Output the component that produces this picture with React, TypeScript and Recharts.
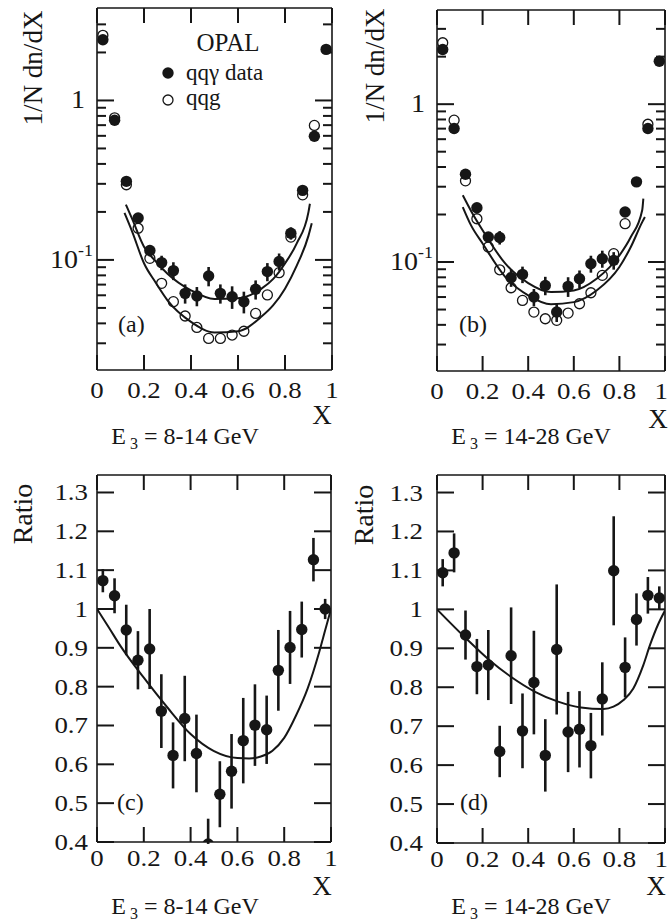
import React from 'react';
import { ComposedChart, Scatter, Line, XAxis, YAxis, ErrorBar } from 'recharts';

const FONT = '"Liberation Serif","Times New Roman",Times,serif';
const INK = '#161616';

// ---------- shared ----------
const xBins = [0.025, 0.075, 0.125, 0.175, 0.225, 0.275, 0.325, 0.375, 0.425, 0.475, 0.525, 0.575, 0.625, 0.675, 0.725, 0.775, 0.825, 0.875, 0.925, 0.975];
const xTicks = [0, 0.2, 0.4, 0.6, 0.8, 1];
const logTicks = [0.03, 0.04, 0.05, 0.06, 0.07, 0.08, 0.09, 0.1, 0.2, 0.3, 0.4, 0.5, 0.6, 0.7, 0.8, 0.9, 1, 2, 3];
const logMajor = [0.1, 1];
const ratioTicks = [0.4, 0.5, 0.6, 0.7, 0.8, 0.9, 1, 1.1, 1.2, 1.3];

// ---------- panel (a): E3 = 8-14 GeV ----------
const aPhoton = [2.40, 0.752, 0.311, 0.183, 0.1146, 0.0962, 0.0857, 0.0617, 0.0594, 0.0793, 0.0617, 0.0588, 0.0547, 0.0654, 0.0845, 0.0977, 0.147, 0.273, 0.597, 2.09];
const aPhotonErr = [0, 0, 0, 0, 0.0095, 0.010, 0.011, 0.0085, 0.0082, 0.011, 0.0085, 0.0095, 0.0085, 0.009, 0.011, 0.012, 0.013, 0, 0, 0];
const aGluon = [2.56, 0.778, 0.296, 0.158, 0.1023, 0.0713, 0.0547, 0.0445, 0.0377, 0.0322, 0.0322, 0.0338, 0.0357, 0.0462, 0.0603, 0.0832, 0.139, 0.256, 0.697, null];
const aFitPhotonX = [0.123, 0.15, 0.2, 0.25, 0.3, 0.4, 0.5, 0.6, 0.7, 0.75, 0.8, 0.85, 0.9, 0.906];
const aFitPhotonY = [0.222, 0.18, 0.121, 0.098, 0.082, 0.0645, 0.0569, 0.0574, 0.066, 0.076, 0.095, 0.127, 0.2, 0.225];
const aFitGluonX = [0.117, 0.15, 0.2, 0.25, 0.3, 0.4, 0.5, 0.6, 0.7, 0.75, 0.8, 0.85, 0.9, 0.914];
const aFitGluonY = [0.197, 0.15, 0.0953, 0.072, 0.0558, 0.0409, 0.0351, 0.0357, 0.0441, 0.052, 0.066, 0.092, 0.142, 0.17];

// ---------- panel (b): E3 = 14-28 GeV ----------
const bPhoton = [2.22, 0.701, 0.360, 0.221, 0.144, 0.143, 0.0796, 0.0835, 0.060, 0.0711, 0.0482, 0.0701, 0.0784, 0.0976, 0.105, 0.1025, 0.2075, 0.322, 0.701, 1.87];
const bPhotonErr = [0, 0, 0, 0, 0, 0.014, 0.010, 0.010, 0.0075, 0.0095, 0.0065, 0.010, 0.010, 0.012, 0.013, 0.013, 0, 0, 0, 0];
const bGluon = [2.45, 0.792, 0.327, 0.188, 0.1245, 0.0893, 0.0687, 0.0571, 0.0482, 0.0437, 0.0427, 0.0475, 0.0544, 0.0639, 0.0823, 0.113, 0.175, null, 0.746, null];
const bFitPhotonX = [0.113, 0.15, 0.2, 0.3, 0.4, 0.5, 0.6, 0.7, 0.8, 0.85, 0.9, 0.905];
const bFitPhotonY = [0.265, 0.21, 0.159, 0.0976, 0.0736, 0.0645, 0.0661, 0.0784, 0.110, 0.144, 0.213, 0.252];
const bFitGluonX = [0.113, 0.15, 0.2, 0.3, 0.4, 0.5, 0.6, 0.7, 0.8, 0.85, 0.9, 0.912];
const bFitGluonY = [0.223, 0.17, 0.131, 0.0803, 0.0615, 0.054, 0.0557, 0.066, 0.093, 0.1245, 0.179, 0.193];

// ---------- panel (c): ratio, E3 = 8-14 GeV ----------
// errors: number = symmetric, [low, high] = asymmetric (bin 10 runs off the bottom of the frame)
const cRatio = [1.073, 1.034, 0.946, 0.868, 0.897, 0.737, 0.623, 0.718, 0.628, 0.395, 0.523, 0.582, 0.661, 0.701, 0.689, 0.842, 0.901, 0.947, 1.127, 1.0];
const cRatioErr: (number | [number, number])[] = [0.03, 0.045, 0.065, 0.075, 0.103, 0.095, 0.085, 0.11, 0.10, [0, 0.065], 0.085, 0.096, 0.11, 0.105, 0.088, 0.104, 0.094, 0.072, 0.056, 0.026];
const cFitX = [0, 0.05, 0.1, 0.2, 0.3, 0.4, 0.5, 0.6, 0.65, 0.7, 0.75, 0.8, 0.85, 0.9, 0.95, 0.975, 1.0];
const cFitY = [1.0, 0.953, 0.905, 0.823, 0.747, 0.678, 0.634, 0.616, 0.615, 0.62, 0.635, 0.668, 0.725, 0.795, 0.89, 0.945, 1.0];

// ---------- panel (d): ratio, E3 = 14-28 GeV ----------
const dRatio = [1.094, 1.145, 0.934, 0.853, 0.857, 0.635, 0.881, 0.688, 0.812, 0.625, 0.897, 0.685, 0.692, 0.650, 0.770, 1.099, 0.851, 0.974, 1.036, 1.029];
const dRatioErr = [0.035, 0.05, 0.063, 0.071, 0.09, 0.066, 0.124, 0.096, 0.133, 0.093, 0.167, 0.103, 0.098, 0.084, 0.094, 0.14, 0.077, 0.067, 0.047, 0.03];
const dFitX = [0, 0.128, 0.229, 0.324, 0.428, 0.531, 0.631, 0.73, 0.774, 0.818, 0.861, 0.905, 0.934, 0.971, 1.0];
const dFitY = [1.0, 0.925, 0.870, 0.827, 0.789, 0.763, 0.748, 0.744, 0.75, 0.767, 0.797, 0.857, 0.908, 0.963, 0.997];

// ---------- helpers ----------
type Err = number | [number, number];
type Pt = { x: number; y: number; e?: Err };
const toPts = (xs: number[], ys: (number | null)[], es?: Err[]): Pt[] =>
  xs
    .map((x, i) => ({ x, y: ys[i] as number, e: es ? es[i] : undefined }))
    .filter((p) => p.y !== null && p.y !== undefined);

const FilledDot = (p: any) =>
  p.cx == null ? <g /> : <circle cx={p.cx} cy={p.cy} r={5.7} fill={INK} />;
const OpenDot = (p: any) =>
  p.cx == null ? <g /> : <circle cx={p.cx} cy={p.cy} r={5} fill="none" stroke={INK} strokeWidth={1.3} />;

const txt = { fontFamily: FONT, fill: INK } as const;
const SX = 1.12; // tick numerals are slightly wider than the plain font

const fmt = (v: number) => String(v);

const TickText = ({ x, y, anchor, size, children }: any) => (
  <text transform={`translate(${x},${y}) scale(${SX},1)`} textAnchor={anchor} fontSize={size} {...txt}>
    {children}
  </text>
);

// clampRight: keep the last label inside the page edge
const BottomTick = (p: any, dy: number, clampRight: boolean) => {
  const last = clampRight && p.payload.value === 1;
  return (
    <g>
      <line x1={p.x} y1={p.y} x2={p.x} y2={p.y - 15} stroke={INK} strokeWidth={2} />
      <TickText x={last ? p.x + 3 : p.x} y={p.y + dy} anchor={last ? 'end' : 'middle'} size={24}>
        {fmt(p.payload.value)}
      </TickText>
    </g>
  );
};
const TopTick = (p: any) => (
  <line x1={p.x} y1={p.y} x2={p.x} y2={p.y + 15} stroke={INK} strokeWidth={2} />
);
const LogLeftTick = (p: any) => {
  const v = p.payload.value;
  const major = logMajor.includes(v);
  return (
    <g>
      <line x1={p.x} y1={p.y} x2={p.x + (major ? 17 : 9)} y2={p.y} stroke={INK} strokeWidth={2} />
      {v === 1 && (
        <TickText x={p.x - 12} y={p.y + 8} anchor="end" size={25}>1</TickText>
      )}
      {v === 0.1 && (
        <TickText x={p.x - 4} y={p.y + 8} anchor="end" size={25}>
          10<tspan dy={-12} fontSize={16}>-1</tspan>
        </TickText>
      )}
    </g>
  );
};
const LogRightTick = (p: any) => {
  const major = logMajor.includes(p.payload.value);
  return <line x1={p.x} y1={p.y} x2={p.x - (major ? 17 : 9)} y2={p.y} stroke={INK} strokeWidth={2} />;
};
const RatioLeftTick = (p: any, gap: number) => (
  <g>
    <line x1={p.x} y1={p.y} x2={p.x + 17} y2={p.y} stroke={INK} strokeWidth={2} />
    <TickText x={p.x - gap} y={p.y + 8} anchor="end" size={24}>
      {fmt(p.payload.value)}
    </TickText>
  </g>
);
const RatioRightTick = (p: any) => (
  <line x1={p.x} y1={p.y} x2={p.x - 17} y2={p.y} stroke={INK} strokeWidth={2} />
);

const axisLine = { stroke: INK, strokeWidth: 1.6 };

type PanelProps = {
  left: number;
  top: number;
  w: number;
  h: number;
  margin: { top: number; right: number; bottom: number; left: number };
  log: boolean;
  yDomain: [number, number];
  labelDy: number;
  labelGap?: number;
  clampRight?: boolean;
  lines: Pt[][];
  filled: Pt[];
  open?: Pt[];
};

// axes are 1px thick boxes; the margins below are the plot box minus that 1px
function Panel({ left, top, w, h, margin, log, yDomain, labelDy, labelGap = 9, clampRight = false, lines, filled, open }: PanelProps) {
  const m = { top: margin.top - 1, right: margin.right - 1, bottom: margin.bottom - 1, left: margin.left - 1 };
  return (
    <div style={{ position: 'absolute', left, top }}>
      <ComposedChart width={w} height={h} margin={m}>
        <XAxis
          xAxisId="b"
          dataKey="x"
          type="number"
          domain={[0, 1]}
          ticks={xTicks}
          interval={0}
          allowDataOverflow
          height={1}
          axisLine={axisLine}
          tickLine={false}
          tickSize={0}
          tickMargin={0}
          tick={(p: any) => BottomTick(p, labelDy, clampRight)}
        />
        <XAxis
          xAxisId="t"
          orientation="top"
          dataKey="x"
          type="number"
          domain={[0, 1]}
          ticks={xTicks}
          interval={0}
          allowDataOverflow
          height={1}
          axisLine={axisLine}
          tickLine={false}
          tickSize={0}
          tickMargin={0}
          tick={TopTick}
        />
        <YAxis
          yAxisId="l"
          dataKey="y"
          type="number"
          scale={log ? 'log' : 'linear'}
          domain={yDomain}
          ticks={log ? logTicks : ratioTicks}
          interval={0}
          allowDataOverflow
          width={1}
          axisLine={axisLine}
          tickLine={false}
          tickSize={0}
          tickMargin={0}
          tick={log ? LogLeftTick : (p: any) => RatioLeftTick(p, labelGap)}
        />
        <YAxis
          yAxisId="r"
          orientation="right"
          dataKey="y"
          type="number"
          scale={log ? 'log' : 'linear'}
          domain={yDomain}
          ticks={log ? logTicks : ratioTicks}
          interval={0}
          allowDataOverflow
          width={1}
          axisLine={axisLine}
          tickLine={false}
          tickSize={0}
          tickMargin={0}
          tick={log ? LogRightTick : RatioRightTick}
        />
        {lines.map((ln, i) => (
          <Line
            key={'l' + i}
            xAxisId="b"
            yAxisId="l"
            data={ln}
            dataKey="y"
            type="monotone"
            stroke={INK}
            strokeWidth={2}
            dot={false}
            activeDot={false}
            isAnimationActive={false}
          />
        ))}
        {open && (
          <Scatter
            xAxisId="b"
            yAxisId="l"
            data={open}
            dataKey="y"
            shape={OpenDot}
            isAnimationActive={false}
          />
        )}
        <Scatter
          xAxisId="b"
          yAxisId="l"
          data={filled}
          dataKey="y"
          shape={FilledDot}
          isAnimationActive={false}
        >
          <ErrorBar dataKey="e" direction="y" width={0} stroke={INK} strokeWidth={2.6} isAnimationActive={false} />
        </Scatter>
      </ComposedChart>
    </div>
  );
}

const E3Label = ({ cx, y, range }: { cx: number; y: number; range: string }) => (
  <text x={cx} y={y} textAnchor="middle" fontSize={24} {...txt}>
    E<tspan dx={4} dy={5} fontSize={16}>3</tspan>
    <tspan dy={-5}>{' = ' + range + ' GeV'}</tspan>
  </text>
);

export default function App() {
  return (
    <div style={{ position: 'absolute', left: 0, top: 0, width: 669, height: 924, background: '#fff', overflow: 'hidden' }}>
      <Panel
        left={0}
        top={0}
        w={345}
        h={420}
        margin={{ top: 8, right: 13, bottom: 50, left: 97 }}
        log
        yDomain={[0.0204, 3.8]}
        labelDy={28}
        lines={[toPts(aFitPhotonX, aFitPhotonY), toPts(aFitGluonX, aFitGluonY)]}
        open={toPts(xBins, aGluon)}
        filled={toPts(xBins, aPhoton, aPhotonErr)}
      />
      <Panel
        left={345}
        top={0}
        w={324}
        h={420}
        margin={{ top: 10, right: 4, bottom: 49, left: 92 }}
        log
        yDomain={[0.0204, 3.95]}
        labelDy={28}
        clampRight
        lines={[toPts(bFitPhotonX, bFitPhotonY), toPts(bFitGluonX, bFitGluonY)]}
        open={toPts(xBins, bGluon)}
        filled={toPts(xBins, bPhoton, bPhotonErr)}
      />
      <Panel
        left={0}
        top={460}
        w={345}
        h={460}
        margin={{ top: 15, right: 14, bottom: 78, left: 97 }}
        log={false}
        yDomain={[0.4, 1.345]}
        labelDy={24}
        labelGap={9}
        lines={[toPts(cFitX, cFitY)]}
        filled={toPts(xBins, cRatio, cRatioErr)}
      />
      <Panel
        left={345}
        top={460}
        w={324}
        h={460}
        margin={{ top: 15, right: 4, bottom: 77, left: 92 }}
        log={false}
        yDomain={[0.4, 1.345]}
        labelDy={24}
        labelGap={14}
        clampRight
        lines={[toPts(dFitX, dFitY)]}
        filled={toPts(xBins, dRatio, dRatioErr)}
      />
      <svg width={669} height={924} style={{ position: 'absolute', left: 0, top: 0, pointerEvents: 'none' }}>
        {/* axis titles */}
        <text transform="translate(42,68) rotate(-90)" textAnchor="middle" fontSize={27} {...txt}>1/N dn/dX</text>
        <text transform="translate(384,66) rotate(-90)" textAnchor="middle" fontSize={27} {...txt}>1/N dn/dX</text>
        <text transform="translate(32,514) rotate(-90)" textAnchor="middle" fontSize={28} {...txt}>Ratio</text>
        <text transform="translate(373,515) rotate(-90)" textAnchor="middle" fontSize={28} {...txt}>Ratio</text>
        {/* X labels */}
        <text x={322} y={424} textAnchor="middle" fontSize={27} {...txt}>X</text>
        <text x={658} y={428} textAnchor="middle" fontSize={27} {...txt}>X</text>
        <text x={322} y={895} textAnchor="middle" fontSize={27} {...txt}>X</text>
        <text x={656} y={895} textAnchor="middle" fontSize={27} {...txt}>X</text>
        {/* energy ranges */}
        <E3Label cx={185} y={444} range="8-14" />
        <E3Label cx={531} y={444} range="14-28" />
        <E3Label cx={185} y={914} range="8-14" />
        <E3Label cx={531} y={914} range="14-28" />
        {/* panel tags */}
        <text x={118} y={332} fontSize={24} {...txt}>(a)</text>
        <text x={459} y={332} fontSize={24} {...txt}>(b)</text>
        <text x={117} y={810} fontSize={24} {...txt}>(c)</text>
        <text x={460} y={810} fontSize={24} {...txt}>(d)</text>
        {/* legend */}
        <text x={228} y={51} textAnchor="middle" fontSize={25} {...txt}>OPAL</text>
        <circle cx={168} cy={73} r={5.7} fill={INK} />
        <text x={186} y={80} fontSize={23} {...txt}>qqγ  data</text>
        <circle cx={168} cy={100} r={5} fill="none" stroke={INK} strokeWidth={1.3} />
        <text x={186} y={105} fontSize={23} {...txt}>qqg</text>
      </svg>
    </div>
  );
}
